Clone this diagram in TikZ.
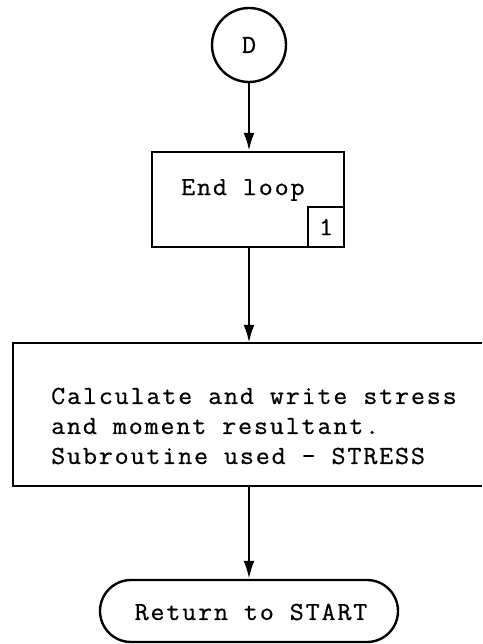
\documentclass[tikz,border=0pt]{standalone}
\usepackage{fontspec}
\setmonofont{Latin Modern Mono}[FakeStretch=1.05, LetterSpace=7, FakeBold=0.6]
\usetikzlibrary{arrows.meta}
\tikzset{
  box/.style={draw, line width=2.4pt, rectangle, inner sep=0pt},
  label text/.style={font=\ttfamily\fontsize{26}{30}\selectfont, inner sep=0pt},
  flow/.style={line width=2.4pt, -{Latex[length=18pt,width=11pt]}},
}
\begin{document}
\begin{tikzpicture}[x=1pt,y=-1pt]
  \useasboundingbox (0,0) rectangle (482,644);
  \clip (0,0) rectangle (482,644);

  % connector circle
  \node[circle, draw, line width=2.4pt, minimum size=74pt, inner sep=0pt,
        font=\ttfamily\fontsize{26}{28}\selectfont] (d) at (249,45) {D};

  % loop end box with its reference tag
  \node[box, minimum width=192pt, minimum height=95pt] (endloop) at (248,199.5) {};
  \node[label text, anchor=west] (endtxt) at (181,190) {End loop};
  \node[box, minimum width=36pt, minimum height=40pt] (tag) at (326,227) {};
  \node[label text] (tagnum) at (tag) {1};

  % processing box, open on the right
  \node[minimum width=469pt, minimum height=143pt, inner sep=0pt] (calc) at (247.5,414.5) {};
  \draw[line width=2.4pt] (calc.north east) -- (calc.north west) -- (calc.south west) -- (calc.south east);
  \node[label text, align=left, anchor=west] (calctxt) at (51,426)
    {Calculate and write stress\\and moment resultant.\\Subroutine used - STRESS};

  % terminal
  \node[draw, line width=2.4pt, rectangle, rounded corners=31pt, minimum width=298pt,
        minimum height=62pt, inner sep=0pt] (ret) at (249,611) {};
  \node[label text] (rettxt) at (251,612) {Return to START};

  % flow lines
  \draw[flow] (d.south) -- (d.south |- endloop.north);
  \draw[flow] (endloop.south -| d.south) -- (d.south |- calc.north);
  \draw[flow] (d.south |- calc.south) -- (d.south |- ret.north);
\end{tikzpicture}
\end{document}
